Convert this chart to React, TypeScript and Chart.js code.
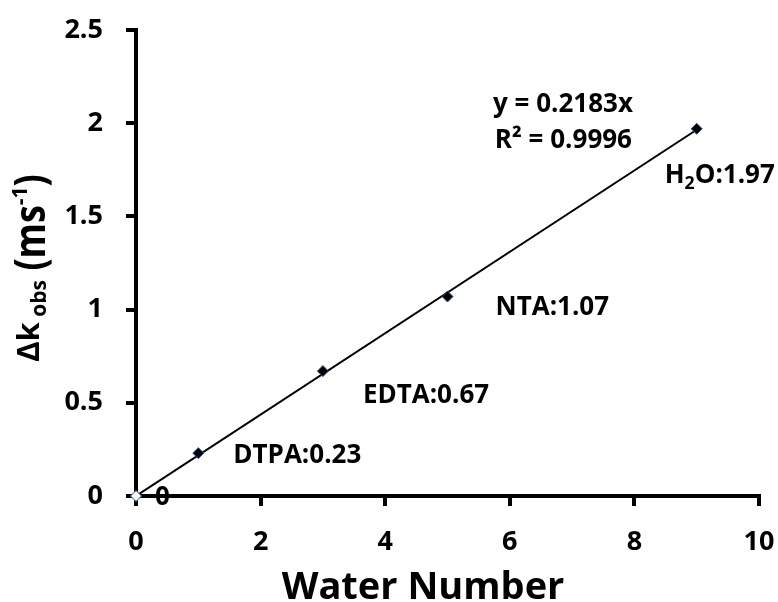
import React, { useEffect, useRef } from 'react';
import { Chart, registerables } from 'chart.js';

Chart.register(...registerables);

// ---- data ----
const waterNumbers = [0, 1, 3, 5, 9];
const deltaK = [0, 0.23, 0.67, 1.07, 1.97];
const pointLabels = ['0', 'DTPA:0.23', 'EDTA:0.67', 'NTA:1.07', 'H2O:1.97'];
const xTickValues = [0, 2, 4, 6, 8, 10];
const xTickLabels = ['0', '2', '4', '6', '8', '10'];
const yTickValues = [0, 0.5, 1, 1.5, 2, 2.5];
const yTickLabels = ['0', '0.5', '1', '1.5', '2', '2.5'];
const trendSlope = 0.2183;
const trendR2 = '0.9996';
const trendRange = [0, 9];
const xTitle = 'Water Number';

// ---- layout (pixel offsets of annotations, not data) ----
const labelOffsets: [number, number][] = [
  [19, 9],
  [35, 10],
  [40, 32],
  [48, 18],
  [-32, 54],
];
const FONT = '"Open Sans", "DejaVu Sans", sans-serif';

type Seg = { t: string; size: number; dy: number; sy?: number };

function parseLabel(s: string, size: number): Seg[] {
  if (s.startsWith('H2O')) {
    return [
      { t: 'H', size, dy: 0 },
      { t: '2', size: size * 0.68, dy: size * 0.25 },
      { t: s.slice(2), size, dy: 0 },
    ];
  }
  return [{ t: s, size, dy: 0 }];
}

function drawSegs(ctx: CanvasRenderingContext2D, segs: Seg[], x: number, y: number) {
  let cx = x;
  for (const s of segs) {
    ctx.font = `bold ${s.size}px ${FONT}`;
    const w = ctx.measureText(s.t).width;
    ctx.save();
    ctx.translate(cx, y + s.dy);
    if (s.sy) ctx.scale(1, s.sy);
    ctx.fillText(s.t, 0, 0);
    ctx.restore();
    cx += w;
  }
  return cx - x;
}

function segsWidth(ctx: CanvasRenderingContext2D, segs: Seg[]) {
  let w = 0;
  for (const s of segs) {
    ctx.font = `bold ${s.size}px ${FONT}`;
    w += ctx.measureText(s.t).width;
  }
  return w;
}

const annotationPlugin = {
  id: 'annotations',
  afterDatasetsDraw(chart: any) {
    const { ctx, scales, chartArea } = chart;
    const x = scales.x;
    const y = scales.y;
    ctx.save();
    ctx.fillStyle = '#000';
    ctx.textAlign = 'left';
    ctx.textBaseline = 'alphabetic';
    waterNumbers.forEach((wx, i) => {
      const px = x.getPixelForValue(wx) + labelOffsets[i][0];
      const py = y.getPixelForValue(deltaK[i]) + labelOffsets[i][1];
      drawSegs(ctx, parseLabel(pointLabels[i], 26), px, py);
    });
    // trendline equation
    ctx.font = `bold 26px ${FONT}`;
    ctx.fillText(`y = ${trendSlope}x`, x.getPixelForValue(5.73), y.getPixelForValue(2.06));
    ctx.fillText(`R\u00B2 = ${trendR2}`, x.getPixelForValue(5.76), y.getPixelForValue(1.867));

    // x title
    ctx.font = `bold 38px ${FONT}`;
    ctx.textAlign = 'center';
    ctx.fillText(xTitle, 423, 599);

    // y title (rotated, rich text)
    ctx.textAlign = 'left';
    const segs: Seg[] = [
      { t: '\u0394k', size: 31, dy: 0 },
      { t: ' obs', size: 21, dy: 7 },
      { t: ' (ms', size: 36, dy: 6, sy: 1.2 },
      { t: '-1', size: 21, dy: -12 },
      { t: ')', size: 36, dy: 6, sy: 1.2 },
    ];
    const tw = segsWidth(ctx, segs);
    const cy = (chartArea.top + chartArea.bottom) / 2 + 5;
    ctx.save();
    ctx.translate(39, cy + tw / 2);
    ctx.rotate(-Math.PI / 2);
    drawSegs(ctx, segs, 0, 0);
    ctx.restore();
    ctx.restore();
  },
};

export default function App() {
  const ref = useRef<HTMLCanvasElement | null>(null);
  useEffect(() => {
    if (!ref.current) return;
    const points = waterNumbers.map((v, i) => ({ x: v, y: deltaK[i] }));
    const trend = trendRange.map((v) => ({ x: v, y: trendSlope * v }));
    const tickFont = { family: FONT, size: 27, weight: 'bold' as const };
    const chart = new Chart(ref.current, {
      type: 'scatter',
      data: {
        datasets: [
          {
            type: 'scatter',
            label: 'data',
            data: points,
            pointStyle: 'rectRot',
            pointRadius: 5.5,
            pointBackgroundColor: points.map((_, i) => (i === 0 ? '#ffffff' : '#000000')),
            pointBorderColor: '#2b4f9a',
            pointBorderWidth: 1,
            clip: false,
            order: 0,
          } as any,
          {
            type: 'line',
            label: 'trend',
            data: trend,
            borderColor: '#000',
            borderWidth: 2,
            pointRadius: 0,
            fill: false,
            order: 1,
          } as any,
        ],
      },
      options: {
        responsive: false,
        animation: false,
        events: [],
        layout: { padding: { top: 30, right: 19, left: 0, bottom: 0 } },
        plugins: { legend: { display: false }, tooltip: { enabled: false } },
        scales: {
          x: {
            type: 'linear',
            min: 0,
            max: 10,
            afterBuildTicks: (s: any) => {
              s.ticks = xTickValues.map((v) => ({ value: v }));
            },
            ticks: {
              font: tickFont,
              color: '#000',
              padding: 20,
              maxRotation: 0,
              callback: (v: any) => xTickLabels[xTickValues.indexOf(Number(v))] ?? '',
            },
            grid: { drawOnChartArea: false, drawTicks: true, tickLength: 10, color: '#000', lineWidth: 4 },
            border: { display: true, color: '#000', width: 4 },
            afterFit: (s: any) => {
              s.height = 106;
              s.paddingLeft = 0;
              s.paddingRight = 0;
            },
          },
          y: {
            type: 'linear',
            min: 0,
            max: 2.5,
            afterBuildTicks: (s: any) => {
              s.ticks = yTickValues.map((v) => ({ value: v }));
            },
            ticks: {
              font: tickFont,
              color: '#000',
              padding: 23,
              callback: (v: any) => yTickLabels[yTickValues.indexOf(Number(v))] ?? '',
            },
            grid: { drawOnChartArea: false, drawTicks: true, tickLength: 10, color: '#000', lineWidth: 4 },
            border: { display: true, color: '#000', width: 4 },
            afterFit: (s: any) => {
              s.width = 136;
              s.paddingTop = 0;
              s.paddingBottom = 0;
            },
          },
        },
      } as any,
      plugins: [annotationPlugin],
    });
    return () => chart.destroy();
  }, []);
  return (
    <div style={{ position: 'absolute', left: 0, top: 0, width: 778, height: 602, background: '#fff' }}>
      <canvas ref={ref} width={778} height={602} />
    </div>
  );
}
